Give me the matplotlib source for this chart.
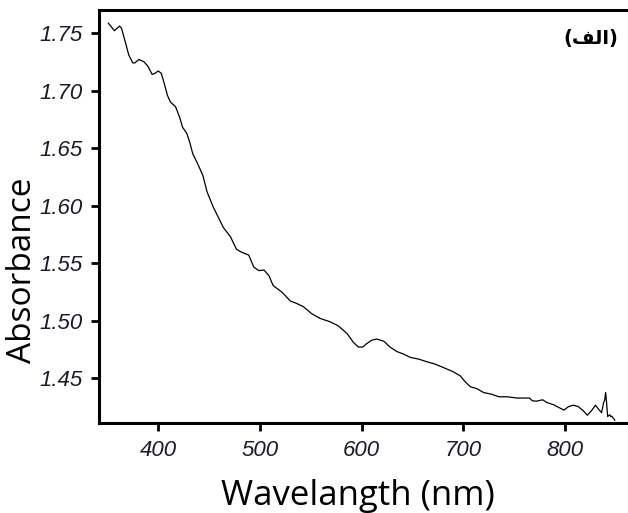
import numpy as np
import matplotlib.pyplot as plt

# UV-Vis spectrum
wavelength = [351, 357, 362, 364, 368, 371, 375, 377, 381, 386, 390, 394, 397, 400,
              403, 406, 409, 412, 417, 421, 424, 428, 431, 434, 439, 444, 448, 454,
              459, 464, 471, 477, 482, 489, 494, 499, 504, 509, 513, 522, 530, 536,
              543, 551, 559, 569, 577, 586, 592, 597, 601, 605, 610, 615, 622, 628,
              635, 641, 648, 656, 664, 672, 680, 690, 697, 702, 707, 713, 720, 728,
              735, 743, 753, 765, 768, 772, 778, 782, 789, 797, 799, 803, 808, 813,
              818, 822, 826, 830, 833, 836, 838, 839, 840, 841, 842, 844, 845, 846, 849]
absorbance = [1.7585, 1.752, 1.756, 1.754, 1.741, 1.731, 1.724, 1.724, 1.727, 1.725,
              1.721, 1.714, 1.715, 1.717, 1.715, 1.706, 1.696, 1.690, 1.686, 1.677,
              1.668, 1.663, 1.655, 1.645, 1.636, 1.626, 1.612, 1.599, 1.590, 1.581,
              1.573, 1.562, 1.5595, 1.557, 1.5465, 1.5435, 1.544, 1.539, 1.5305, 1.5245,
              1.517, 1.515, 1.512, 1.506, 1.502, 1.499, 1.4955, 1.4885, 1.481, 1.477,
              1.477, 1.480, 1.483, 1.484, 1.482, 1.477, 1.473, 1.471, 1.468, 1.4666,
              1.4643, 1.4623, 1.4594, 1.4556, 1.452, 1.4467, 1.4425, 1.441, 1.4375, 1.436,
              1.4338, 1.4338, 1.4327, 1.4327, 1.4303, 1.4300, 1.4312, 1.4289, 1.4268, 1.4231,
              1.4222, 1.425, 1.4265, 1.4253, 1.4216, 1.4178, 1.4216, 1.4265, 1.423, 1.420,
              1.429, 1.4308, 1.4375, 1.4277, 1.4166, 1.4182, 1.4166, 1.417, 1.4135]

xticks = [400, 500, 600, 700, 800]
yticks = [1.45, 1.50, 1.55, 1.60, 1.65, 1.70, 1.75]
panel_label = '(' + '\ufed2\ufedf\u0627' + ')'   # "(الف)" in display order

fig = plt.figure(figsize=(6.28, 5.13), dpi=100)
ax = fig.add_axes([0.158, 0.1754, 0.855, 0.8051])

ax.plot(wavelength, absorbance, color='black', lw=0.9)

ax.set_xlim(342, 870)
ax.set_ylim(1.411, 1.770)
ax.set_xticks(xticks)
ax.set_yticks(yticks)
ax.set_yticklabels(['%.2f' % v for v in yticks])

for s in ax.spines.values():
    s.set_linewidth(2.2)
ax.tick_params(direction='out', length=6, width=2, pad=6)
for lab in ax.get_xticklabels() + ax.get_yticklabels():
    lab.set_fontfamily('Liberation Sans')
    lab.set_fontstyle('italic')
    lab.set_fontsize(16)
    lab.set_color('#1a1a2a')

# label positions (axes fraction) - reference has them off-centre
ax.set_xlabel('Wavelangth (nm)', fontsize=25, family='Open Sans')
ax.xaxis.set_label_coords(0.482, -0.135)
ax.set_ylabel('Absorbance', fontsize=24, family='Open Sans')
ax.yaxis.set_label_coords(-0.112, 0.37)

fig.text(0.941, 0.925, panel_label, fontsize=14, fontweight='bold',
         family=['DejaVu Sans'], ha='center', va='center')

fig.savefig('out.png', dpi=100)
